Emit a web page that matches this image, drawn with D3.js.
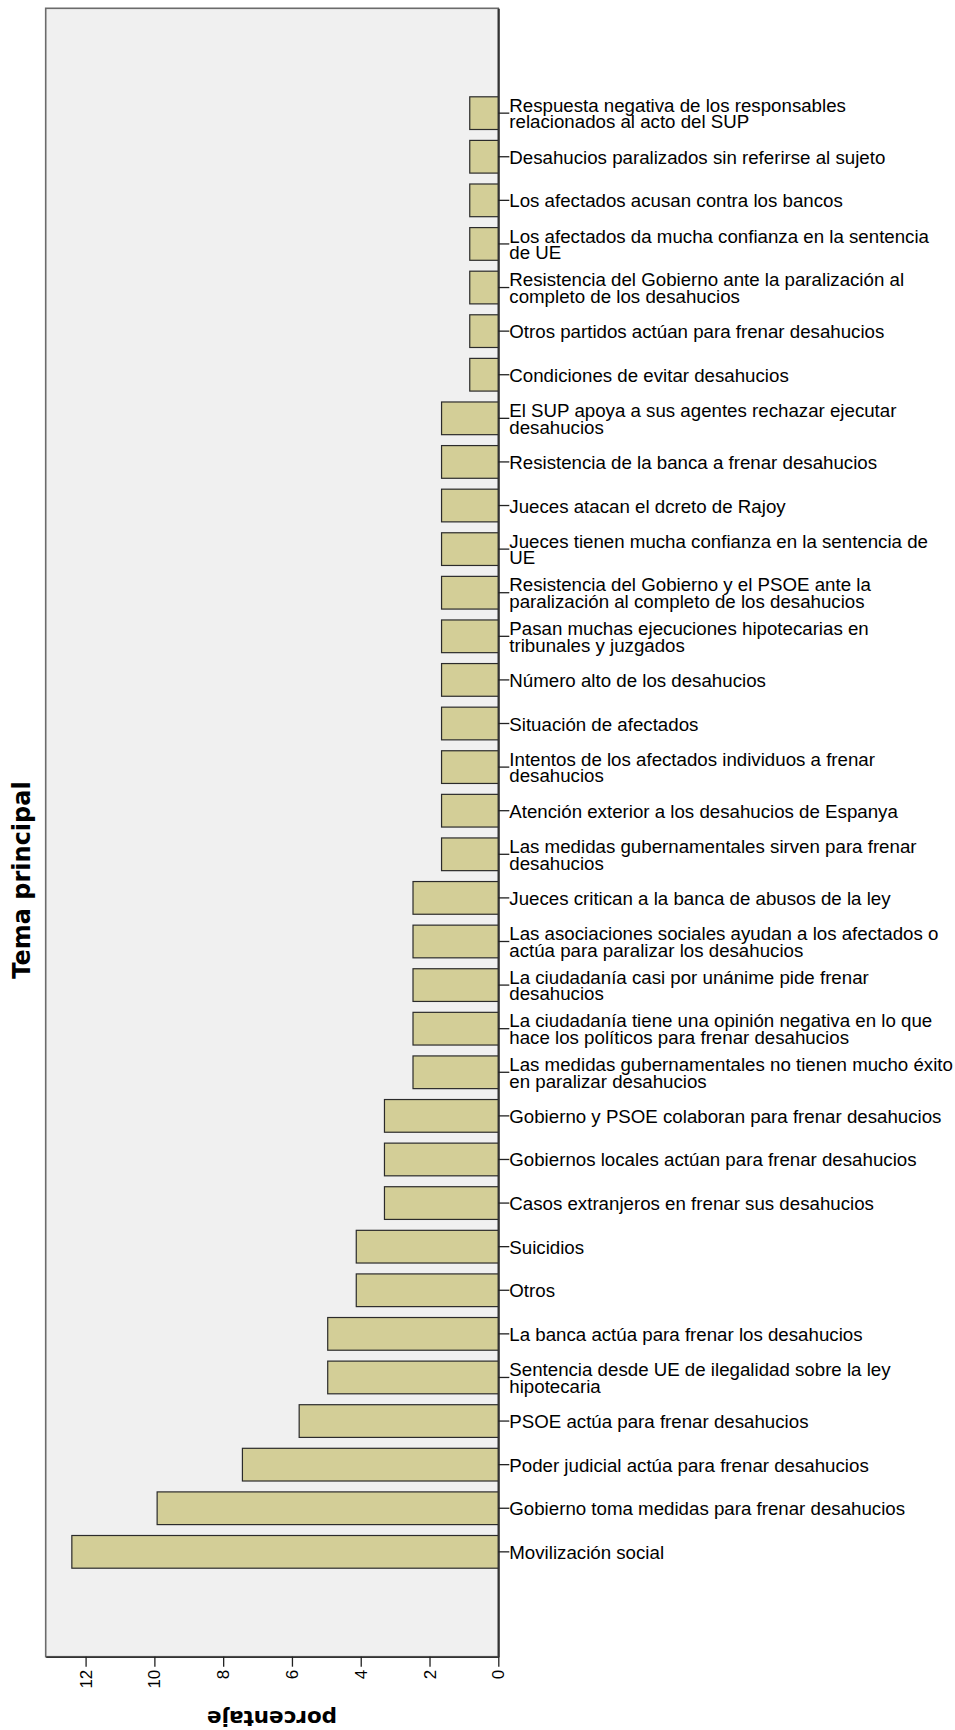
<!DOCTYPE html>
<html>
<head>
<meta charset="utf-8">
<script src="https://cdn.jsdelivr.net/npm/d3@7"></script>
<style>
  body { margin: 0; background: #fff; }
  svg text { fill: #000; }
</style>
</head>
<body>
<div id="chart"></div>
<script>
const categories = [
  "Respuesta negativa de los responsables\nrelacionados al acto del SUP",
  "Desahucios paralizados sin referirse al sujeto",
  "Los afectados acusan contra los bancos",
  "Los afectados da mucha confianza en la sentencia\nde UE",
  "Resistencia del Gobierno ante la paralización al\ncompleto de los desahucios",
  "Otros partidos actúan para frenar desahucios",
  "Condiciones de evitar desahucios",
  "El SUP apoya a sus agentes rechazar ejecutar\ndesahucios",
  "Resistencia de la banca a frenar desahucios",
  "Jueces atacan el dcreto de Rajoy",
  "Jueces tienen mucha confianza en la sentencia de\nUE",
  "Resistencia del Gobierno y el PSOE ante la\nparalización al completo de los desahucios",
  "Pasan muchas ejecuciones hipotecarias en\ntribunales y juzgados",
  "Número alto de los desahucios",
  "Situación de afectados",
  "Intentos de los afectados individuos a frenar\ndesahucios",
  "Atención exterior a los desahucios de Espanya",
  "Las medidas gubernamentales sirven para frenar\ndesahucios",
  "Jueces critican a la banca de abusos de la ley",
  "Las asociaciones sociales ayudan a los afectados o\nactúa para paralizar los desahucios",
  "La ciudadanía casi por unánime pide frenar\ndesahucios",
  "La ciudadanía tiene una opinión negativa en lo que\nhace los políticos para frenar desahucios",
  "Las medidas gubernamentales no tienen mucho éxito\nen paralizar desahucios",
  "Gobierno y PSOE colaboran para frenar desahucios",
  "Gobiernos locales actúan para frenar desahucios",
  "Casos extranjeros en frenar sus desahucios",
  "Suicidios",
  "Otros",
  "La banca actúa para frenar los desahucios",
  "Sentencia desde UE de ilegalidad sobre la ley\nhipotecaria",
  "PSOE actúa para frenar desahucios",
  "Poder judicial actúa para frenar desahucios",
  "Gobierno toma medidas para frenar desahucios",
  "Movilización social"
];

const percentages = [
  0.83, 0.83, 0.83, 0.83, 0.83, 0.83, 0.83,
  1.65, 1.65, 1.65, 1.65, 1.65, 1.65, 1.65, 1.65, 1.65, 1.65, 1.65,
  2.48, 2.48, 2.48, 2.48, 2.48,
  3.31, 3.31, 3.31,
  4.13, 4.13,
  4.96, 4.96,
  5.79, 7.44, 9.92, 12.40
];

const xTicks = [0, 2, 4, 6, 8, 10, 12];
const xTitle = "porcentaje";
const yTitle = "Tema principal";

const data = categories.map((c, i) => ({ label: c, value: percentages[i] }));

const W = 955, H = 1730;
const plot = { left: 45.7, right: 498.3, top: 8.3, bottom: 1656.7 };

const svg = d3.select("#chart").append("svg")
  .attr("width", W)
  .attr("height", H);

const x = d3.scaleLinear()
  .domain([0, 13.16])
  .range([plot.right, plot.left]);

const y = d3.scaleBand()
  .domain(categories)
  .range([plot.top, plot.bottom])
  .paddingInner(0.25)
  .paddingOuter(2.03);

// plot background
svg.append("rect")
  .attr("x", plot.left)
  .attr("y", plot.top)
  .attr("width", plot.right - plot.left)
  .attr("height", plot.bottom - plot.top)
  .attr("fill", "#f0f0f0")
  .attr("stroke", "#6b6b6b")
  .attr("stroke-width", 1.6);

svg.selectAll(".bar")
  .data(data)
  .enter().append("rect")
  .attr("class", "bar")
  .attr("x", d => x(d.value))
  .attr("y", d => y(d.label))
  .attr("width", d => x(0) - x(d.value))
  .attr("height", y.bandwidth())
  .attr("fill", "#d3ce97")
  .attr("stroke", "#2b2b2b")
  .attr("stroke-width", 1.2);

// x axis (bottom), labels turned sideways
const xAxis = svg.append("g")
  .attr("transform", `translate(0,${plot.bottom})`)
  .call(d3.axisBottom(x).tickValues(xTicks).tickSize(10).tickSizeOuter(0).tickFormat(d3.format("d")));

xAxis.select(".domain").attr("stroke", "#333").attr("stroke-width", 1.6);
xAxis.selectAll(".tick line").attr("stroke", "#222").attr("stroke-width", 1.3);
xAxis.selectAll(".tick text")
  .attr("font-family", "Liberation Sans, Arial, sans-serif")
  .attr("font-size", 17)
  .attr("text-anchor", "end")
  .attr("dy", null)
  .attr("y", 0)
  .attr("transform", "translate(0,13) rotate(-90)")
  .attr("dominant-baseline", "central");

// y axis on the right, category labels
const yAxis = svg.append("g")
  .attr("transform", `translate(${plot.right},0)`)
  .call(d3.axisRight(y).tickSize(11).tickSizeOuter(0));

yAxis.select(".domain").attr("stroke", "#333").attr("stroke-width", 2);
yAxis.selectAll(".tick line").attr("stroke", "#222").attr("stroke-width", 1.3);

const lineGap = 16.5;
yAxis.selectAll(".tick text").each(function(d) {
  const t = d3.select(this);
  const lines = d.split("\n");
  t.text(null)
    .attr("x", 11)
    .attr("dy", null)
    .attr("font-family", "Liberation Sans, Arial, sans-serif")
    .attr("font-size", 18.7)
    .attr("text-anchor", "start");
  const y0 = 7 - (lines.length - 1) * lineGap / 2;
  lines.forEach((ln, i) => {
    t.append("tspan")
      .attr("x", 11)
      .attr("y", y0 + i * lineGap)
      .text(ln);
  });
});

// axis titles
svg.append("text")
  .attr("transform", `translate(30,880) rotate(-90)`)
  .attr("text-anchor", "middle")
  .attr("font-family", "DejaVu Sans, sans-serif")
  .attr("font-weight", "bold")
  .attr("font-size", 24)
  .text(yTitle);

svg.append("text")
  .attr("transform", `translate(${(plot.left + plot.right) / 2},1710.5) rotate(180)`)
  .attr("text-anchor", "middle")
  .attr("font-family", "DejaVu Sans, sans-serif")
  .attr("font-weight", "bold")
  .attr("font-size", 21.5)
  .text(xTitle);
</script>
</body>
</html>
